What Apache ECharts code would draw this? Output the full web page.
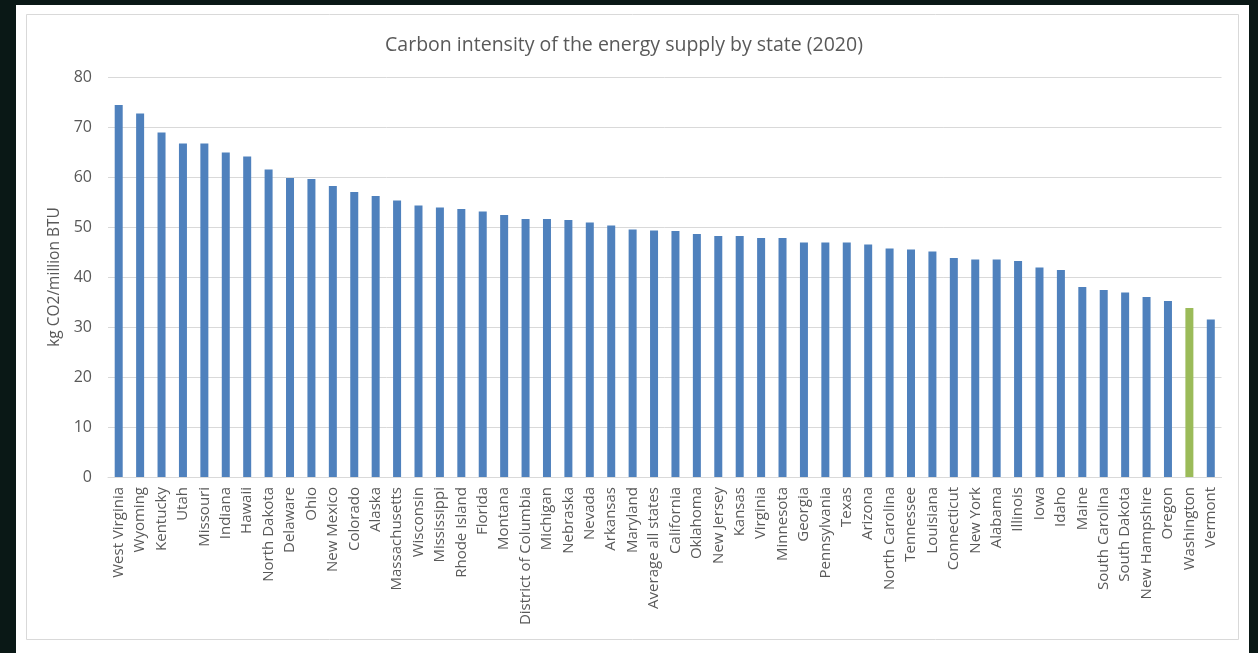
<!DOCTYPE html>
<html><head><meta charset="utf-8">
<script src="https://cdn.jsdelivr.net/npm/echarts@6/dist/echarts.min.js"></script>
<style>html,body{margin:0;padding:0;background:#0a1816;}#c{width:1258px;height:653px;}</style>
</head><body><div id="c"></div>
<script>
const categories = ["West Virginia","Wyoming","Kentucky","Utah","Missouri","Indiana","Hawaii","North Dakota","Delaware","Ohio","New Mexico","Colorado","Alaska","Massachusetts","Wisconsin","Mississippi","Rhode Island","Florida","Montana","District of Columbia","Michigan","Nebraska","Nevada","Arkansas","Maryland","Average all states","California","Oklahoma","New Jersey","Kansas","Virginia","Minnesota","Georgia","Pennsylvania","Texas","Arizona","North Carolina","Tennessee","Louisiana","Connecticut","New York","Alabama","Illinois","Iowa","Idaho","Maine","South Carolina","South Dakota","New Hampshire","Oregon","Washington","Vermont"];
const values = [74.4,72.7,68.9,66.7,66.7,64.9,64.1,61.5,59.8,59.6,58.2,57.0,56.2,55.3,54.3,53.9,53.6,53.1,52.4,51.6,51.6,51.4,50.9,50.3,49.5,49.3,49.2,48.6,48.2,48.2,47.8,47.8,46.9,46.9,46.9,46.5,45.7,45.5,45.1,43.8,43.5,43.5,43.2,41.9,41.4,38.0,37.4,36.9,36.0,35.2,33.8,31.5];
const highlight = ["Washington"];
const yTicks = [0,10,20,30,40,50,60,70,80];
const titleText = "Carbon intensity of the energy supply by state (2020)";
const yName = "kg CO2/million BTU";

const chart = echarts.init(document.getElementById('c'));
const font = "'Open Sans', 'Noto Sans', sans-serif";
chart.setOption({
  backgroundColor: '#0a1816',
  animation: false,
  graphic: [
    {type:'rect', shape:{x:16,y:5,width:1233,height:660}, style:{fill:'#ffffff'}, z:-10},
    {type:'rect', shape:{x:26.5,y:14.5,width:1212,height:625}, style:{fill:'none',stroke:'#d9d9d9',lineWidth:1}, z:-9}
  ],
  title: {
    text: titleText, left: 619, textAlign: 'center', top: 30,
    textStyle: {color:'#595959', fontSize:19.5, fontWeight:'normal', fontFamily:font}
  },
  grid: {left:108, right:36.5, top:77, bottom:176},
  xAxis: {
    type:'category', data: categories,
    axisLine:{lineStyle:{color:'#d9d9d9'}},
    axisTick:{show:false},
    axisLabel:{interval:0, rotate:90, color:'#595959', fontSize:15, fontFamily:font, margin:10}
  },
  yAxis: {
    type:'value', min:yTicks[0], max:yTicks[yTicks.length-1], interval:10,
    name: yName, nameLocation:'middle', nameGap:33,
    nameTextStyle:{color:'#595959', fontSize:15.5, fontFamily:font},
    axisLine:{show:false}, axisTick:{show:false},
    axisLabel:{color:'#595959', fontSize:16, fontFamily:font, margin:16},
    splitLine:{lineStyle:{color:'#d9d9d9'}}
  },
  series: [{
    type:'bar', barWidth:8,
    data: values.map((v,i)=>({value:v, itemStyle:{color: highlight.includes(categories[i]) ? '#9bbb59' : '#4f81bd'}}))
  }]
});
</script></body></html>
